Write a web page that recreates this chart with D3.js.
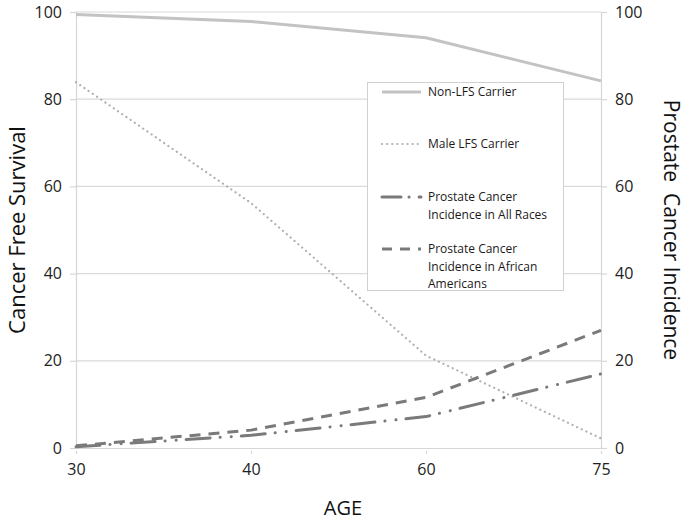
<!DOCTYPE html>
<html><head><meta charset="utf-8">
<script src="https://cdn.jsdelivr.net/npm/d3@7"></script>
<style>body{margin:0;background:#fff;font-family:"Open Sans",sans-serif;}</style>
</head><body>
<svg id="c" width="686" height="522"></svg>
<script>
const ages = ["30","40","60","75"];
const nonLFS = [99.4, 97.8, 94.1, 84.2];
const maleLFS = [83.9, 56.2, 21.2, 2.2];
const allRaces = [0.3, 2.9, 7.2, 17.0];
const africanAm = [0.5, 4.1, 11.6, 27.0];
const yTicks = [0, 20, 40, 60, 80, 100];

const series = [
  {name:["Non-LFS Carrier"], values:nonLFS, color:"#c3c3c3", width:3, dash:null, cap:"butt"},
  {name:["Male LFS Carrier"], values:maleLFS, color:"#b0b0b0", width:2.2, dash:"0.1 5", cap:"round"},
  {name:["Prostate Cancer","Incidence in All Races"], values:allRaces, color:"#7a7a7a", width:3, dash:"24 10 0.1 11 0.1 10", cap:"round"},
  {name:["Prostate Cancer","Incidence in African","Americans"], values:africanAm, color:"#7a7a7a", width:3, dash:"11 8", cap:"butt"}
];

const svg = d3.select("#c");
const L = 76, R = 601, T = 12, B = 448;
const x = d3.scalePoint().domain(ages).range([L, R]);
const y = d3.scaleLinear().domain([0, 100]).range([B, T]);

svg.append("g").selectAll("line").data(yTicks.filter(d=>d>0)).join("line")
  .attr("x1", L).attr("x2", R).attr("y1", d=>y(d)).attr("y2", d=>y(d))
  .attr("stroke", "#dadada").attr("stroke-width", 1.2);

const la = svg.append("g").attr("transform", `translate(${L},0)`)
  .call(d3.axisLeft(y).tickValues(yTicks).tickSize(6).tickPadding(8));
const ra = svg.append("g").attr("transform", `translate(${R},0)`)
  .call(d3.axisRight(y).tickValues(yTicks).tickSize(6).tickPadding(8));
const ba = svg.append("g").attr("transform", `translate(0,${B})`)
  .call(d3.axisBottom(x).tickSize(6).tickPadding(10));
ba.select(".domain").attr("d", `M${L},0.5H${R}`);
[la, ra, ba].forEach(g => {
  g.select(".domain").attr("stroke", "#d6d6d6").attr("stroke-width", 1.2);
  g.selectAll(".tick line").attr("stroke", "#d6d6d6").attr("stroke-width", 1.2);
  g.selectAll("text").attr("font-size", 16).attr("fill", "#222").attr("font-family", "Open Sans, sans-serif");
});
ba.selectAll(".tick line").attr("y1", 3);

const line = d3.line().x((d,i)=>x(ages[i])).y(d=>y(d));
series.forEach(s => {
  svg.append("path").datum(s.values).attr("d", line)
    .attr("fill", "none").attr("stroke", s.color).attr("stroke-width", s.width)
    .attr("stroke-dasharray", s.dash).attr("stroke-linecap", s.cap);
});

const lg = svg.append("g");
lg.append("rect").attr("x", 367.5).attr("y", 82.5).attr("width", 196).attr("height", 208)
  .attr("fill", "#fff").attr("stroke", "#d0d0d0").attr("stroke-width", 1);
const ly = [92, 144, 197, 249];
series.forEach((s, i) => {
  lg.append("line").attr("x1", 382).attr("x2", 421).attr("y1", ly[i]).attr("y2", ly[i])
    .attr("stroke", s.color).attr("stroke-width", s.width)
    .attr("stroke-dasharray", i===2 ? "19 8 0.1 10" : (i===3 ? "10 8" : s.dash))
    .attr("stroke-linecap", s.cap);
  s.name.forEach((t, j) => {
    lg.append("text").attr("x", 428).attr("y", ly[i] + 4 + j*17.5)
      .attr("font-size", 12).attr("fill", "#1a1a1a").attr("font-family", "Open Sans, sans-serif").text(t);
  });
});

svg.append("text").attr("transform", `translate(25,230) rotate(-90)`).attr("text-anchor", "middle")
  .attr("font-size", 22).attr("fill", "#111").text("Cancer Free Survival");
svg.append("text").attr("transform", `translate(664,230) rotate(90)`).attr("text-anchor", "middle")
  .attr("font-size", 21).attr("fill", "#111").attr("xml:space", "preserve").style("white-space", "pre")
  .text("Prostate  Cancer Incidence");
svg.append("text").attr("x", 343).attr("y", 515).attr("text-anchor", "middle")
  .attr("font-size", 20).attr("fill", "#111").text("AGE");
</script>
</body></html>
